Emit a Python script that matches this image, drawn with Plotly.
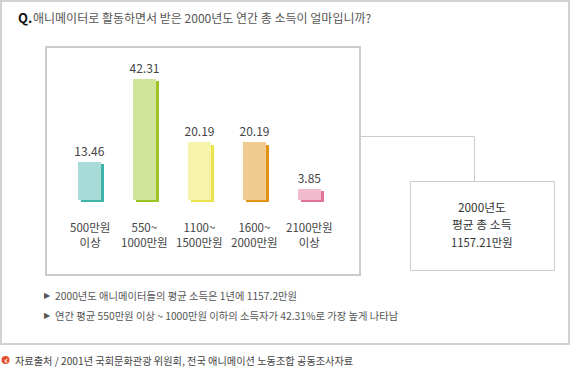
import plotly.graph_objects as go

W, H = 570, 382

# ---- data ----
categories = ["500만원<br>이상", "550~<br>1000만원", "1100~<br>1500만원", "1600~<br>2000만원", "2100만원<br>이상"]
values = [13.46, 42.31, 20.19, 20.19, 3.85]
face_colors = ["#a7dcd9", "#d1e49b", "#f6f3aa", "#efcb92", "#f1bbcd"]
shadow_colors = ["#3cb4aa", "#9bc424", "#ece34a", "#e19314", "#e3739c"]
title_q = "Q."
title_text = "애니메이터로 활동하면서 받은 2000년도 연간 총 소득이 얼마입니까?"
summary_lines = ["2000년도", "평균 총 소득", "1157.21만원"]
bullets = ["2000년도 애니메이터들의 평균 소득은 1년에 1157.2만원",
           "연간 평균 550만원 이상 ~ 1000만원 이하의 소득자가 42.31%로 가장 높게 나타남"]
source_text = "자료출처 / 2001년 국회문화관광 위원회, 전국 애니메이션 노동조합 공동조사자료"

FONT = "Noto Sans CJK KR"

def px(x):
    return x / W

def py(y):
    return 1 - y / H

x0px, xstep = 89.5, 54.875
y0px, yscale = 200.0, 2.86
xr = [-x0px / xstep, (W - x0px) / xstep]
yr = [-(H - y0px) / yscale, y0px / yscale]

bw = 23 / xstep
dx = 3 / xstep
dy = 2.3 / yscale
xs = list(range(len(values)))

fig = go.Figure()
fig.add_trace(go.Bar(
    x=xs, y=values, base=[-dy] * len(values), width=bw, offset=-bw / 2 + dx,
    marker=dict(color=shadow_colors, line=dict(width=0)), hoverinfo="skip", showlegend=False,
))
fig.add_trace(go.Bar(
    x=xs, y=values, width=bw, offset=-bw / 2,
    marker=dict(color=face_colors, line=dict(width=0)),
    text=[f"{v:.2f}" for v in values], textposition="outside", cliponaxis=False,
    constraintext="none",
    textfont=dict(family=FONT, size=12, color="#444444"), showlegend=False,
))

ann = []
for i, c in enumerate(categories):
    ann.append(dict(x=i, y=-(234 - y0px) / yscale, xref="x", yref="y", text=c, showarrow=False,
                    font=dict(family=FONT, size=11.5, color="#444444"), align="center",
                    xanchor="center", yanchor="middle"))

ann.append(dict(x=px(16), y=py(17), xref="paper", yref="paper", text="<b>" + title_q + "</b>",
                showarrow=False, font=dict(family=FONT, size=13, color="#111111"),
                xanchor="left", yanchor="middle"))
ann.append(dict(x=px(31), y=py(17), xref="paper", yref="paper", text=title_text,
                showarrow=False, font=dict(family=FONT, size=12, color="#555555"),
                xanchor="left", yanchor="middle"))

for k, (t, yy, fs) in enumerate(zip(summary_lines, [206.5, 224, 241.5], [11.8, 11.8, 11.3])):
    ann.append(dict(x=px(482), y=py(yy), xref="paper", yref="paper", text=t,
                    showarrow=False, font=dict(family=FONT, size=fs, color="#333333"),
                    xanchor="center", yanchor="middle", borderpad=0, borderwidth=0))

for j, b in enumerate(bullets):
    yy = 295 + 20 * j
    ann.append(dict(x=px(42), y=py(yy), xref="paper", yref="paper", text="▶",
                    showarrow=False, font=dict(family="DejaVu Sans", size=8, color="#555555"),
                    xanchor="left", yanchor="middle"))
    ann.append(dict(x=px(53), y=py(yy), xref="paper", yref="paper", text=b,
                    showarrow=False, font=dict(family=FONT, size=10.3, color="#555555"),
                    xanchor="left", yanchor="middle"))

ann.append(dict(x=px(5.5), y=py(360), xref="paper", yref="paper", text="<b>‹</b>",
                showarrow=False, font=dict(family="DejaVu Sans", size=10, color="#ffffff"),
                xanchor="center", yanchor="middle"))
ann.append(dict(x=px(13), y=py(360), xref="paper", yref="paper", text=source_text,
                showarrow=False, font=dict(family=FONT, size=10.2, color="#444444"),
                xanchor="left", yanchor="middle"))

shapes = [
    dict(type="rect", xref="paper", yref="paper", x0=px(1), x1=px(569), y0=py(1), y1=py(344),
         line=dict(color="#d2d2d2", width=2), layer="below"),
    dict(type="rect", xref="paper", yref="paper", x0=px(46), x1=px(360), y0=py(47), y1=py(275),
         line=dict(color="#cccccc", width=2), layer="below"),
    dict(type="line", xref="paper", yref="paper", x0=px(361), x1=px(474.5), y0=py(136.5), y1=py(136.5),
         line=dict(color="#cccccc", width=1)),
    dict(type="line", xref="paper", yref="paper", x0=px(474.5), x1=px(474.5), y0=py(136.5), y1=py(181),
         line=dict(color="#cccccc", width=1)),
    dict(type="rect", xref="paper", yref="paper", x0=px(410.5), x1=px(554.5), y0=py(181.5), y1=py(270.5),
         line=dict(color="#cccccc", width=1)),
    dict(type="circle", xref="paper", yref="paper", x0=px(1.5), x1=px(9.5), y0=py(356), y1=py(364),
         fillcolor="#e2502e", line=dict(width=0)),
]

fig.update_layout(
    width=W, height=H, margin=dict(l=0, r=0, t=0, b=0),
    paper_bgcolor="white", plot_bgcolor="white",
    barmode="overlay", bargap=0,
    xaxis=dict(range=xr, visible=False, fixedrange=True),
    yaxis=dict(range=yr, visible=False, fixedrange=True),
    annotations=ann, shapes=shapes, showlegend=False,
)

fig.write_html("out.html", config={"displayModeBar": False},
               post_script="document.body.style.margin='0';document.body.style.overflow='hidden';")
